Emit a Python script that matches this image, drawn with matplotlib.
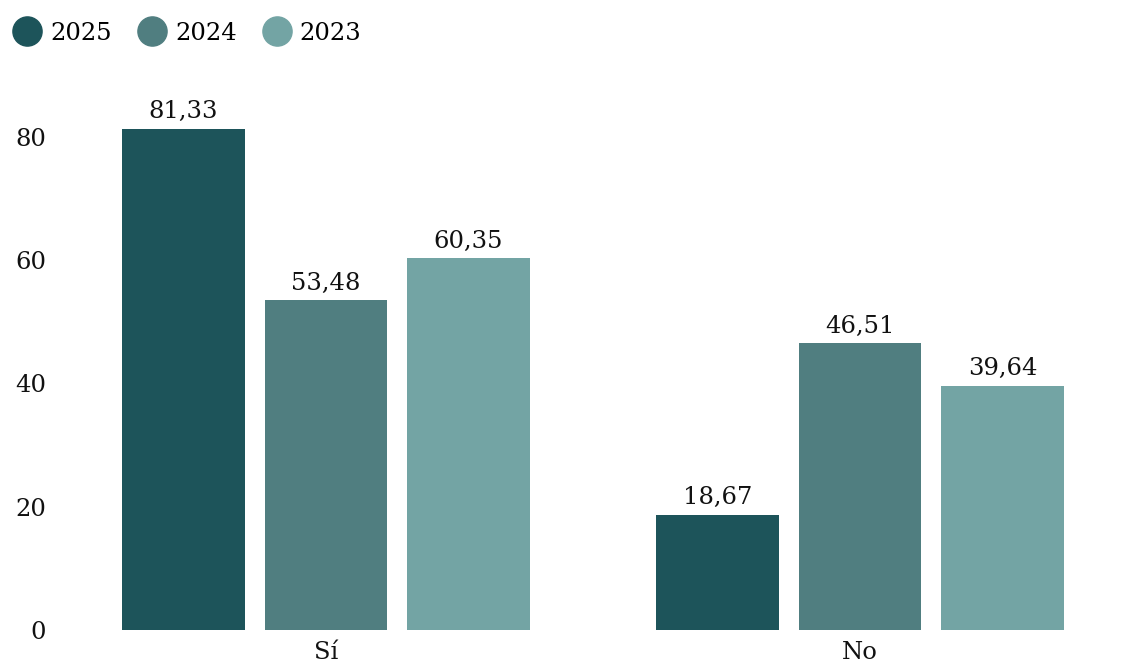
import numpy as np
import matplotlib
matplotlib.use('Agg')
import matplotlib.pyplot as plt
from matplotlib.lines import Line2D

categories = ['Sí', 'No']
years = ['2025', '2024', '2023']
values_2025 = [81.33, 18.67]
values_2024 = [53.48, 46.51]
values_2023 = [60.35, 39.64]
yticks = [0, 20, 40, 60, 80]

colors = ['#1d545a', '#507e80', '#73a4a4']
series = [values_2025, values_2024, values_2023]

plt.rcParams['font.family'] = ['DejaVu Serif']

fig = plt.figure(figsize=(11.33, 6.72), dpi=100)
# axes: left 60px .. right 1120px, y=0 at 630px, top at 90 units
ax = fig.add_axes([60 / 1133, 42 / 672, 1060 / 1133, 90 * 6.1625 / 672])

x = np.arange(len(categories))
step = 0.267
width = 0.23
for i, (vals, col) in enumerate(zip(series, colors)):
    pos = x + (i - 1) * step
    bars = ax.bar(pos, vals, width, color=col, label=years[i])
    for b, v in zip(bars, vals):
        ax.annotate(('%.2f' % v).replace('.', ','),
                    (b.get_x() + b.get_width() / 2, v),
                    xytext=(0, 4), textcoords='offset points',
                    ha='center', va='bottom', fontsize=17.5, color='#111111')

ax.set_xlim(-0.498, 1.487)
ax.set_ylim(0, 90)
ax.set_xticks(x)
ax.set_xticklabels(categories, fontsize=17.5, color='#111111')
ax.set_yticks(yticks)
ax.set_yticklabels([str(t) for t in yticks], fontsize=17.5, color='#111111')
ax.tick_params(length=0, pad=8)
ax.tick_params(axis='y', pad=10)
for s in ax.spines.values():
    s.set_visible(False)

handles = [Line2D([], [], marker='o', linestyle='none', markersize=21,
                  markerfacecolor=c, markeredgecolor=c) for c in colors]
fig.legend(handles, years, loc='center left', bbox_to_anchor=(10 / 1133, 1 - 33 / 672),
           ncol=3, frameon=False, fontsize=17.5, handlelength=1.0,
           handletextpad=0.45, columnspacing=1.15, borderaxespad=0, borderpad=0.2)

fig.savefig('out.png', dpi=100, facecolor='white')
